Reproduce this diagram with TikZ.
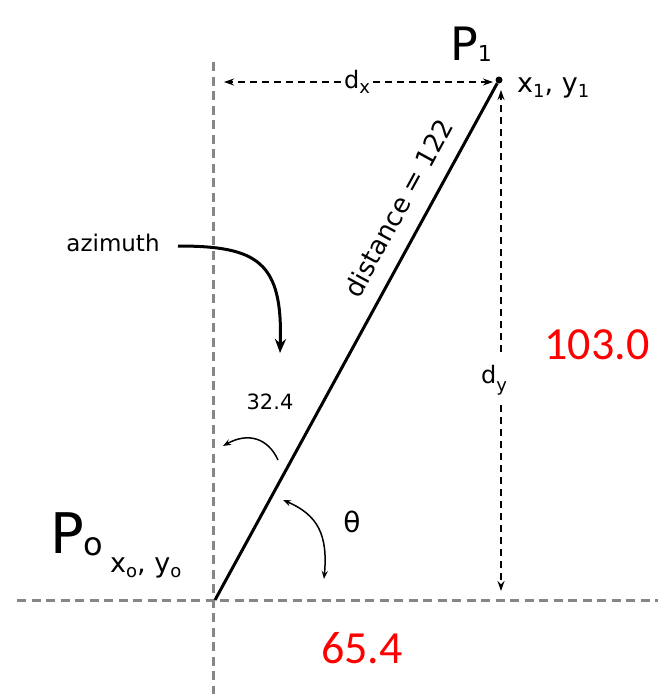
\documentclass[tikz,border=0pt]{standalone}
\usepackage{fontspec}
\setmainfont{DejaVu Sans}
\newfontfamily\redfont{Carlito}
\usetikzlibrary{arrows.meta}
\newcommand\fs[1]{\fontsize{#1}{#1}\selectfont}
\newcommand\lowsub[3]{\raisebox{-#2}{\fs{#1}#3}}
\tikzset{
  axisline/.style={draw=gray!95, line width=3pt, dash pattern=on 9pt off 5.5pt},
  dimarrow/.style={draw=black, line width=1.4pt, dash pattern=on 7pt off 5pt, -{Stealth[length=10pt,width=7pt]}},
  mainline/.style={draw=black, line width=3pt},
  bigarrow/.style={draw=black, line width=3pt, -{Stealth[length=14pt,width=11pt]}},
  thinarc/.style={draw=black, line width=1.5pt},
  lbl/.style={inner sep=0pt, text=black},
  redlbl/.style={inner sep=0pt, text=red, font=\redfont\fs{46}},
  gaplbl/.style={inner sep=3pt, fill=white, text=black}
}
\begin{document}
\begin{tikzpicture}[x=1pt,y=-1pt]
\useasboundingbox (0,0) rectangle (658,694);
% axes
\coordinate (vtop) at (213,62);
\coordinate (vbot) at (213,694);
\coordinate (hleft) at (17,600);
\coordinate (hright) at (658,600);
\draw[axisline] (vtop) -- (vbot);
\draw[axisline] (hleft) -- (hright);
% points
\coordinate (O) at (215,600);
\node[circle, fill=black, inner sep=0pt, minimum size=7pt] (P1) at (499,80) {};
\draw[mainline] (O) -- (P1);
% dx
\coordinate (dxL) at (224,82);
\coordinate (dxR) at (493,82);
\node[gaplbl, font=\fs{24}] (dx) at (357,82) {d\lowsub{18}{0.4ex}{x}};
\draw[dimarrow] (dx) -- (dxL);
\draw[dimarrow] (dx) -- (dxR);
% dy
\coordinate (dyT) at (501,90);
\coordinate (dyB) at (501,591);
\node[lbl, font=\fs{24}] (dy) at (494,380) {d\lowsub{18}{0.6ex}{y}};
\draw[dimarrow] (501,352) -- (dyT);
\draw[dimarrow] (501,405) -- (dyB);
% labels
\node[lbl, font=\fs{46}, anchor=south west] (P1lbl) at (450,62) {P\lowsub{22}{0.05ex}{1}};
\node[lbl, font=\fs{27}, anchor=west] (P1xy) at (517,88) {x\lowsub{18}{0.35ex}{1}, y\lowsub{18}{0.35ex}{1}};
\node[lbl, font=\fs{56}, anchor=south west] (P0lbl) at (50,556) {P\lowsub{32}{0.05ex}{o}};
\node[lbl, font=\fs{27}, anchor=west] (P0xy) at (110,568) {x\lowsub{18}{0.35ex}{o}, y\lowsub{18}{0.35ex}{o}};
\node[lbl, font=\fs{26}, rotate=61.4] (dist) at (398,208) {distance = 122};
\node[lbl, font=\fs{23}] (az) at (113,243) {azimuth};
\node[lbl, font=\fs{21}] (az324) at (270,402) {32.4};
\node[lbl, font=\fs{28}] (theta) at (352,522) {θ};
\node[redlbl] (dyval) at (597,345) {103.0};
\node[redlbl] (dxval) at (362,648) {65.4};
% azimuth arrow
\coordinate (azS) at (178,246);
\coordinate (azE) at (280,353);
\draw[bigarrow] (azS) .. controls (258,246) and (283,262) .. (azE);
% 32.4 arc
\coordinate (aA) at (278,460);
\coordinate (aB) at (223,446);
\draw[thinarc, -{Stealth[length=8pt,width=6pt]}] (aA) .. controls (268,438) and (248,432) .. (aB);
% theta arc
\coordinate (tA) at (324,579);
\coordinate (tB) at (283,500);
\draw[thinarc, {Stealth[length=8pt,width=6pt]}-{Stealth[length=8pt,width=6pt]}] (tB) .. controls (318,515) and (328,535) .. (tA);
\end{tikzpicture}
\end{document}
